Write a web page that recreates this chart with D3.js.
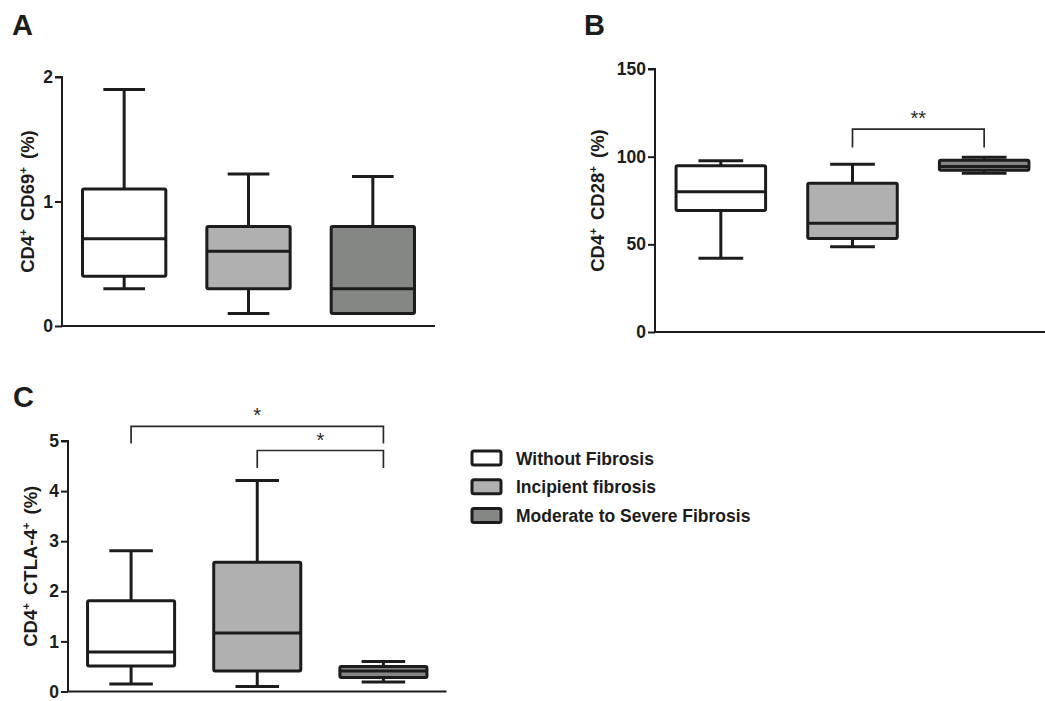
<!DOCTYPE html>
<html>
<head>
<meta charset="utf-8">
<script src="https://cdn.jsdelivr.net/npm/d3@7"></script>
<style>
  body { margin: 0; background: #fff; }
  svg { display: block; font-family: "Liberation Sans", Arial, sans-serif; }
</style>
</head>
<body>
<div id="chart"></div>
<script>
// groups shared by all three panels
const groups = ["Without Fibrosis", "Incipient fibrosis", "Moderate to Severe Fibrosis"];
const fills = ["#ffffff", "#b0b0b0", "#858785"];

// panel A: CD4+ CD69+ (%)
const aMin = [0.3, 0.1, 0.1];
const aQ1 = [0.4, 0.3, 0.1];
const aMed = [0.7, 0.6, 0.3];
const aQ3 = [1.1, 0.8, 0.8];
const aMax = [1.9, 1.22, 1.2];
const aTicks = [0, 1, 2];

// panel B: CD4+ CD28+ (%)
const bMin = [42, 48.6, 90.6];
const bQ1 = [69.3, 53.3, 92.2];
const bMed = [80, 62, 94.4];
const bQ3 = [94.8, 84.9, 97.9];
const bMax = [97.6, 95.7, 99.6];
const bTicks = [0, 50, 100, 150];
const bSig = [{from: 1, to: 2, top: 115.7, leg: 105.2, label: "**"}];

// panel C: CD4+ CTLA-4+ (%)
const cMin = [0.15, 0.1, 0.19];
const cQ1 = [0.51, 0.41, 0.28];
const cMed = [0.79, 1.17, 0.41];
const cQ3 = [1.81, 2.58, 0.5];
const cMax = [2.81, 4.21, 0.6];
const cTicks = [0, 1, 2, 3, 4, 5];
const cSig = [
    {from: 0, to: 2, top: 5.29, leg: 4.95, label: "*"},
    {from: 1, to: 2, top: 4.81, leg: 4.46, label: "*"}
];

const width = 1045, height = 701;
const ink = "#1c1c1c";

const svg = d3.select("#chart").append("svg")
    .attr("width", width)
    .attr("height", height);

function drawPanel(p) {
    let g = svg.append("g");

    let x = d3.scalePoint()
        .domain(groups)
        .range([p.left, p.right])
        .padding(0.5);

    let y = d3.scaleLinear()
        .domain([0, p.max])
        .range([p.bottom, p.top]);

    let boxW = x.step() * p.boxFrac;

    // y axis
    let yAxis = d3.axisLeft(y)
        .tickValues(p.ticks)
        .tickSize(7)
        .tickPadding(2)
        .tickFormat(d3.format("d"));

    let ag = g.append("g")
        .attr("transform", `translate(${p.left},0)`)
        .call(yAxis);
    ag.select(".domain").attr("stroke", ink).attr("stroke-width", 2).attr("d", `M-7,${y(p.max)}H0V${p.bottom}`);
    ag.selectAll(".tick line").attr("stroke", ink).attr("stroke-width", 2);
    ag.selectAll(".tick text")
        .attr("fill", ink)
        .style("font-size", "17.5px")
        .style("font-weight", "bold")
        .style("font-family", "'Liberation Sans', Arial, sans-serif");

    // x axis line
    g.append("line")
        .attr("x1", p.left).attr("x2", p.axisEnd)
        .attr("y1", p.bottom).attr("y2", p.bottom)
        .attr("stroke", ink).attr("stroke-width", 2);

    let data = groups.map((name, i) => ({
        name: name, i: i,
        min: p.min[i], q1: p.q1[i], med: p.med[i], q3: p.q3[i], max: p.maxs[i]
    }));

    let box = g.selectAll(".box").data(data).enter().append("g").attr("class", "box");

    // whiskers
    box.append("line")
        .attr("x1", d => x(d.name)).attr("x2", d => x(d.name))
        .attr("y1", d => y(d.max)).attr("y2", d => y(d.min))
        .attr("stroke", ink).attr("stroke-width", 3);

    box.selectAll(".cap").data(d => [d, d].map((v, k) => ({name: v.name, val: k ? v.min : v.max})))
        .enter().append("line")
        .attr("x1", d => x(d.name) - boxW / 4).attr("x2", d => x(d.name) + boxW / 4)
        .attr("y1", d => y(d.val)).attr("y2", d => y(d.val))
        .attr("stroke", ink).attr("stroke-width", 3);

    box.append("rect")
        .attr("x", d => x(d.name) - boxW / 2)
        .attr("width", boxW)
        .attr("y", d => y(d.q3))
        .attr("height", d => y(d.q1) - y(d.q3))
        .attr("fill", d => fills[d.i])
        .attr("stroke", ink).attr("stroke-width", 3)
        .attr("rx", 1.5);

    box.append("line")
        .attr("x1", d => x(d.name) - boxW / 2).attr("x2", d => x(d.name) + boxW / 2)
        .attr("y1", d => y(d.med)).attr("y2", d => y(d.med))
        .attr("stroke", ink).attr("stroke-width", 3);

    // significance brackets
    (p.sig || []).forEach(s => {
        let x1 = x(groups[s.from]), x2 = x(groups[s.to]);
        g.append("path")
            .attr("d", `M${x1},${y(s.leg)}V${y(s.top)}H${x2}V${y(s.leg)}`)
            .attr("fill", "none").attr("stroke", "#2a2a2a").attr("stroke-width", 1.7);
        g.append("text")
            .attr("x", (x1 + x2) / 2)
            .attr("y", y(s.top) - 4)
            .attr("text-anchor", "middle")
            .style("font-size", "20px")
            .attr("fill", "#2a2a2a")
            .text(s.label);
    });

    // y label with superscripts
    let lab = g.append("text")
        .attr("transform", `translate(${p.labelX},${(p.top + p.bottom) / 2}) rotate(-90)`)
        .attr("text-anchor", "middle")
        .style("font-size", "18.5px")
        .style("font-weight", "bold")
        .attr("fill", ink);
    p.label.forEach(part => {
        lab.append("tspan")
            .attr("dy", part.sup ? -7 : (part.back ? 7 : null))
            .attr("dx", part.gap ? 8 : null)
            .style("font-size", part.sup ? "11.5px" : null)
            .text(part.t);
    });

    // panel letter
    svg.append("text")
        .attr("x", p.letterX).attr("y", p.letterY)
        .style("font-size", "29px")
        .style("font-weight", "bold")
        .attr("fill", ink)
        .text(p.letter);
}

function labelParts(a, b) {
    return [
        {t: a}, {t: "+", sup: true},
        {t: b, back: true, gap: true}, {t: "+", sup: true},
        {t: "(%)", back: true, gap: true}
    ];
}

drawPanel({
    letter: "A", letterX: 12, letterY: 35,
    left: 62, right: 435, axisEnd: 435, top: 77, bottom: 326, max: 2,
    ticks: aTicks, boxFrac: 0.67, labelX: 34,
    min: aMin, q1: aQ1, med: aMed, q3: aQ3, maxs: aMax,
    label: labelParts("CD4", "CD69")
});

drawPanel({
    letter: "B", letterX: 584, letterY: 35,
    left: 655, right: 1050, axisEnd: 1045, top: 69, bottom: 332, max: 150,
    ticks: bTicks, boxFrac: 0.68, labelX: 604,
    min: bMin, q1: bQ1, med: bMed, q3: bQ3, maxs: bMax, sig: bSig,
    label: labelParts("CD4", "CD28")
});

drawPanel({
    letter: "C", letterX: 13, letterY: 407,
    left: 68, right: 446.5, axisEnd: 446.5, top: 441, bottom: 691.5, max: 5,
    ticks: cTicks, boxFrac: 0.69, labelX: 37,
    min: cMin, q1: cQ1, med: cMed, q3: cQ3, maxs: cMax, sig: cSig,
    label: labelParts("CD4", "CTLA-4")
});

// legend
const legend = svg.append("g").attr("transform", "translate(472,451)");
const leg = legend.selectAll(".leg").data(groups).enter().append("g")
    .attr("transform", (d, i) => `translate(0,${i * 28.7})`);
leg.append("rect")
    .attr("width", 29).attr("height", 14).attr("rx", 2)
    .attr("fill", (d, i) => fills[i])
    .attr("stroke", ink).attr("stroke-width", 3);
leg.append("text")
    .attr("x", 44).attr("y", 13.5)
    .style("font-size", "17.5px")
    .style("font-weight", "bold")
    .attr("fill", ink)
    .text(d => d);
</script>
</body>
</html>
